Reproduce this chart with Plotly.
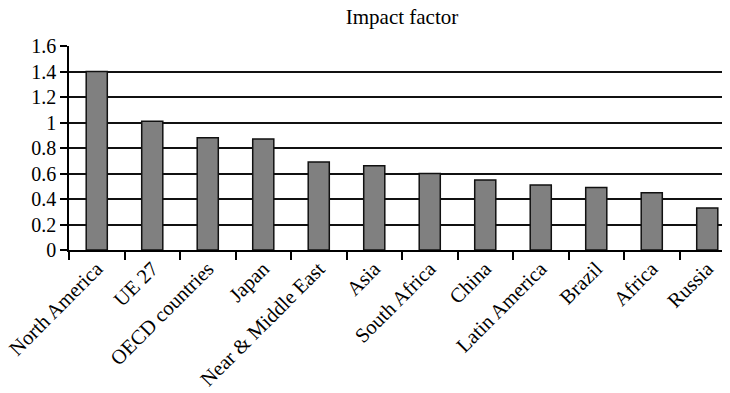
import plotly.graph_objects as go

categories = ["North America", "UE 27", "OECD countries", "Japan", "Near & Middle East",
              "Asia", "South Africa", "China", "Latin America", "Brazil", "Africa", "Russia"]
impact = [1.40, 1.01, 0.88, 0.87, 0.69, 0.66, 0.60, 0.55, 0.51, 0.49, 0.45, 0.33]
y_ticks = [0, 0.2, 0.4, 0.6, 0.8, 1.0, 1.2, 1.4, 1.6]
y_tick_text = ["0", "0.2", "0.4", "0.6", "0.8", "1", "1.2", "1.4", "1.6"]

FONT = "Liberation Serif"

fig = go.Figure(go.Bar(
    x=categories, y=impact,
    marker=dict(color="#808080", line=dict(color="#111111", width=1.5)),
))

fig.update_layout(
    width=730, height=393,
    margin=dict(l=61, r=3, t=38, b=151),
    plot_bgcolor="white", paper_bgcolor="white",
    bargap=0.62,
    showlegend=False,
    font=dict(family=FONT, size=20, color="black"),
    title=dict(text="Impact factor", x=0.5, xref="paper", xanchor="center",
               y=1 - 8.5 / 393, yref="container", yanchor="middle",
               font=dict(family=FONT, size=21, color="black")),
)

fig.update_xaxes(
    range=[-0.5, 11.5],
    automargin=False,
    showgrid=False,
    showline=True, linecolor="black", linewidth=1.5,
    ticks="outside", tickson="boundaries", ticklen=8, tickcolor="black", tickwidth=1.5,
    tickangle=-45,
    ticklabelstandoff=-3,
    tickfont=dict(family=FONT, size=20.5, color="black"),
)

fig.update_yaxes(
    range=[0, 1.6],
    automargin=False,
    tickvals=y_ticks, ticktext=y_tick_text,
    showgrid=True, gridcolor="#111111", gridwidth=1.5,
    showline=True, linecolor="black", linewidth=1.5,
    ticks="outside", ticklen=7, tickcolor="black", tickwidth=1.5,
    zeroline=False,
    tickfont=dict(family=FONT, size=20, color="black"),
)

fig.write_html("out.html")
